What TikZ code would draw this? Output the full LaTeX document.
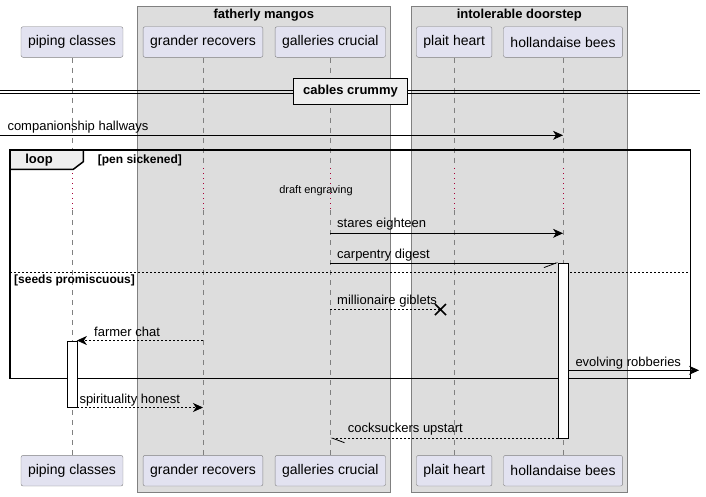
\documentclass[tikz,border=0pt]{standalone}
\usepackage{fontspec}
\setmainfont{Liberation Sans}
\usetikzlibrary{arrows.meta}

\definecolor{partfill}{HTML}{E2E2F0}
\definecolor{boxfill}{HTML}{DDDDDD}
\definecolor{tabfill}{HTML}{EEEEEE}
\definecolor{linegray}{HTML}{808080}
\definecolor{delayred}{HTML}{A80036}

\begin{document}
\begin{tikzpicture}[
    x=1pt, y=-1pt,
    >={Stealth[length=10pt, width=9pt, inset=3pt]},
    participant/.style={draw=linegray, fill=partfill, rounded corners=2pt,
        minimum height=30.6pt, inner xsep=7pt, font=\fontsize{14}{16}\selectfont},
    groupbox/.style={draw=linegray, fill=boxfill},
    lifeline/.style={draw=linegray, dash pattern=on 5pt off 5pt},
    delayline/.style={draw=delayred, dash pattern=on 1pt off 4pt},
    actbar/.style={draw, fill=white, minimum width=10pt, inner sep=0pt},
    msg/.style={->, line width=0.8pt},
    reply/.style={->, line width=0.8pt, dash pattern=on 2pt off 2pt},
    halfmsg/.style={-{Straight Barb[length=12pt, width=9pt, #1]}, line width=0.8pt},
    label/.style={anchor=west, inner sep=0pt, font=\fontsize{13}{15}\selectfont},
    guard/.style={anchor=west, inner sep=0pt, font=\fontsize{12}{14}\selectfont\bfseries}
]

    % Fix the size of the page.
    \useasboundingbox (0,0) rectangle (706,496);

    % Grey boxes behind the grouped participants.
    \draw[groupbox] (137.3,6) rectangle (390.3,492);
    \draw[groupbox] (411.3,6) rectangle (627.3,492);
    \node[font=\fontsize{13}{15}\selectfont\bfseries] (fm) at (263.8,15) {fatherly mangos};
    \node[font=\fontsize{13}{15}\selectfont\bfseries] (id) at (519.3,15) {intolerable doorstep};

    % Participants, on top and at the bottom.
    \node[participant] (pcT) at (72,42) {piping classes};
    \node[participant] (grT) at (203,42) {grander recovers};
    \node[participant] (gcT) at (330.3,42) {galleries crucial};
    \node[participant] (phT) at (454.2,42) {plait heart};
    \node[participant] (hbT) at (563,42) {hollandaise bees};

    \node[participant] (pcB) at (72,470.7) {piping classes};
    \node[participant] (grB) at (203,470.7) {grander recovers};
    \node[participant] (gcB) at (330.3,470.7) {galleries crucial};
    \node[participant] (phB) at (454.2,470.7) {plait heart};
    \node[participant] (hbB) at (563,470.7) {hollandaise bees};

    % Lifelines, dotted where the delay is.
    \foreach \t/\b in {pcT/pcB, grT/grB, gcT/gcB, phT/phB, hbT/hbB} {
        \draw[lifeline] (\t.south) -- (\t |- 0,168);
        \draw[delayline] (\t |- 0,168) -- (\t |- 0,210);
        \draw[lifeline] (\t |- 0,210) -- (\b.north);
    }

    % Divider across the whole diagram.
    \draw (0,89.8) -- (700,89.8);
    \draw (0,93.2) -- (700,93.2);
    \node[draw, line width=1.5pt, fill=tabfill, minimum width=114.4pt, minimum height=26pt,
        font=\fontsize{13}{15}\selectfont\bfseries] (div) at (350.5,91.3) {cables crummy};

    % First message, coming in from the left.
    \coordinate (inL) at (0,135.3);
    \draw[msg] (inL) -- (hbT |- inL);
    \node[label] (m1) at (7.3,127.5) {companionship hallways};

    % The loop frame with its tab and the else line.
    \draw[line width=1.5pt] (10,150) rectangle (690.7,378.7);
    \draw[line width=1.5pt, fill=tabfill] (10,150) -- (83.3,150) -- (83.3,161.7)
        -- (73.3,169.3) -- (10,169.3) -- cycle;
    \node[font=\fontsize{13}{15}\selectfont\bfseries] (lp) at (39,160) {loop};
    \node[guard] (g1) at (97.7,160) {[pen sickened]};
    \draw[dash pattern=on 2pt off 2pt] (10,272.3) -- (690.7,272.3);
    \node[guard] (g2) at (14,280.5) {[seeds promiscuous]};

    % Delay text.
    \node[font=\fontsize{11}{13}\selectfont] (dl) at (316,190.7) {draft engraving};

    % Activation bars.
    \node[actbar, minimum height=174.7pt] (hbA) at (563.3,350.65) {};
    \node[actbar, minimum height=66.6pt] (pcA) at (71.7,374) {};

    % Messages inside the loop.
    \draw[msg] (gcT |- 0,233.3) -- (hbT |- 0,233.3);
    \node[label] (m2) at (337,224.3) {stares eighteen};

    \draw[halfmsg=right] (gcT |- hbA.north) -- (hbA.north west);
    \node[label] (m3) at (337,255.3) {carpentry digest};

    \coordinate (lost) at (440.5,309.5);
    \draw[line width=0.8pt, dash pattern=on 2pt off 2pt] (gcT |- lost) -- (lost);
    \draw[line width=1.5pt] (lost) +(-5.5,-5.5) -- +(5.5,5.5) (lost) +(-5.5,5.5) -- +(5.5,-5.5);
    \node[label] (m4) at (337,301) {millionaire giblets};

    \draw[reply] (grT |- pcA.north) -- (pcA.north east);
    \node[label] (m5) at (94,331.7) {farmer chat};

    \coordinate (outR) at (699,370.3);
    \draw[msg] (hbA.east |- outR) -- (outR);
    \node[label] (m6) at (575.3,363) {evolving robberies};

    % Messages after the loop.
    \draw[reply] (pcA.south east) -- (grT |- pcA.south);
    \node[label] (m7) at (79.3,399.7) {spirituality honest};

    \draw[line width=0.8pt, dash pattern=on 2pt off 2pt,
        -{Straight Barb[length=12pt, width=9pt, left]}] (hbA.south west) -- (gcT |- hbA.south);
    \node[label] (m8) at (347.7,429.3) {cocksuckers upstart};

\end{tikzpicture}
\end{document}
